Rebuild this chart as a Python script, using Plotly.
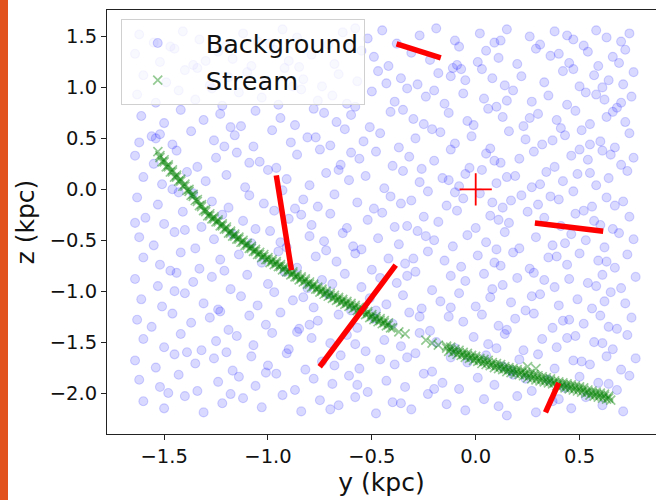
import plotly.graph_objects as go

# ---------------------------------------------------------------------------
# Field (background) stars, y and z positions in kpc, listed band by band in z
# ---------------------------------------------------------------------------
bg_y = [
    -1.62, -1.55, -1.41, -1.33, -1.20, -1.12, -1.05, -0.93, -0.86, -0.71, -0.64, -0.52, -0.45, -0.38, -0.27, -0.19, -0.10, -0.08, 0.02, 0.09, 0.15, 0.26, 0.31, 0.38, 0.47, 0.52, 0.58, 0.63, 0.70, 0.74, -1.47, -0.99, -0.58, 0.12, 0.44,
    -1.64, -1.52, -1.45, -1.36, -1.24, -1.17, -1.08, -0.97, -0.90, -0.79, -0.68, -0.61, -0.49, -0.42, -0.31, -0.22, -0.11, -0.09, -0.07, 0.05, 0.11, 0.20, 0.29, 0.36, 0.45, 0.54, 0.59, 0.66, 0.72, -1.30, -0.85, -0.55, 0.01, 0.40, 0.69,
    -1.60, -1.49, -1.40, -1.28, -1.19, -1.10, -1.01, -0.92, -0.83, -0.74, -0.66, -0.57, -0.47, -0.36, -0.28, -0.18, -0.05, 0.03, 0.14, 0.22, 0.33, 0.42, 0.50, 0.57, 0.64, 0.71, 0.76, -1.34, -0.88, -0.43, -0.12, 0.08, 0.47, 0.61,
    -1.63, -1.54, -1.43, -1.35, -1.22, -1.14, -1.03, -0.95, -0.84, -0.76, -0.69, -0.58, -0.50, -0.39, -0.33, -0.24, -0.15, -0.06, 0.04, 0.10, 0.18, 0.27, 0.35, 0.44, 0.53, 0.62, 0.68, 0.75, -1.27, -0.62, -0.20, 0.15, 0.58, 0.70,
    -1.61, -1.50, -1.42, -1.31, -1.23, -1.13, -1.06, -0.94, -0.87, -0.78, -0.67, -0.60, -0.51, -0.41, -0.30, -0.25, -0.13, -0.04, 0.06, 0.13, 0.23, 0.30, 0.39, 0.48, 0.55, 0.63, 0.72, -1.18, -0.73, -0.35, -0.01, 0.26, 0.66, 0.41,
    -1.56, -1.54, -1.52, -1.46, -1.37, -1.26, -1.16, -1.07, -0.98, -0.89, -0.81, -0.70, -0.63, -0.54, -0.46, -0.37, -0.29, -0.17, -0.10, -0.02, 0.07, 0.16, 0.24, 0.32, 0.43, 0.51, 0.60, 0.67, 0.74, -1.62, -1.21, -0.77, -0.21, 0.37, 0.55,
    -1.64, -1.55, -1.44, -1.34, -1.25, -1.15, -1.04, -0.96, -0.86, -0.75, -0.65, -0.56, -0.48, -0.40, -0.32, -0.20, -0.12, -0.03, 0.05, 0.12, 0.21, 0.28, 0.38, 0.46, 0.54, 0.61, 0.70, 0.76, -1.09, -0.60, -0.26, 0.09, 0.50, 0.65,
    -1.60, -1.51, -1.39, -1.30, -1.20, -1.11, -1.00, -0.91, -0.80, -0.72, -0.61, -0.53, -0.44, -0.35, -0.27, -0.16, -0.08, -0.05, 0.03, 0.10, 0.19, 0.27, 0.34, 0.42, 0.49, 0.58, 0.64, 0.73, -1.46, -0.66, -0.13, 0.15, 0.31, 0.55,
    -1.63, -1.53, -1.43, -1.27, -1.19, -1.09, -1.02, -0.93, -0.83, -0.76, -0.68, -0.57, -0.49, -0.41, -0.31, -0.23, -0.14, -0.06, 0.02, 0.08, 0.13, 0.22, 0.30, 0.40, 0.47, 0.56, 0.63, 0.71, -1.36, -0.87, -0.36, -0.10, 0.17, 0.36, 0.67,
    -1.59, -1.50, -1.41, -1.32, -1.22, -1.12, -1.06, -0.97, -0.90, -0.79, -0.70, -0.62, -0.52, -0.45, -0.33, -0.25, -0.18, -0.09, 0.00, 0.07, 0.16, 0.25, 0.33, 0.41, 0.48, 0.57, 0.66, 0.74, -1.64, -0.84, -0.39, 0.11, 0.52, 0.60,
    -1.62, -1.55, -1.45, -1.35, -1.26, -1.17, -1.08, -0.99, -0.91, -0.80, -0.73, -0.64, -0.55, -0.47, -0.37, -0.28, -0.20, -0.11, -0.04, 0.05, 0.14, 0.21, 0.29, 0.37, 0.46, 0.53, 0.62, 0.69, 0.76, -1.40, -0.94, -0.59, -0.24, 0.10, 0.43,
    -1.60, -1.52, -1.42, -1.33, -1.23, -1.14, -1.03, -0.95, -0.86, -0.77, -0.67, -0.58, -0.50, -0.42, -0.34, -0.23, -0.15, -0.07, 0.01, 0.09, 0.18, 0.26, 0.35, 0.44, 0.50, 0.59, 0.67, 0.73, -1.47, -0.72, -0.30, 0.12, 0.39, 0.63,
    -1.64, -1.53, -1.44, -1.36, -1.27, -1.18, -1.10, -1.00, -0.92, -0.81, -0.74, -0.63, -0.55, -0.46, -0.38, -0.29, -0.21, -0.12, -0.05, 0.04, 0.13, 0.20, 0.28, 0.38, 0.45, 0.54, 0.61, 0.70, 0.77, -1.21, -0.69, -0.33, 0.08, 0.33, 0.58,
    -1.61, -1.51, -1.40, -1.31, -1.24, -1.13, -1.05, -0.97, -0.88, -0.78, -0.71, -0.60, -0.51, -0.43, -0.35, -0.26, -0.17, -0.08, 0.00, 0.07, 0.17, 0.24, 0.31, 0.40, 0.49, 0.56, 0.65, 0.72, -1.45, -0.83, -0.48, -0.12, 0.27, 0.62,
    -1.63, -1.56, -1.46, -1.37, -1.28, -1.19, -1.09, -1.01, -0.94, -0.85, -0.76, -0.66, -0.57, -0.49, -0.40, -0.32, -0.22, -0.13, -0.06, 0.03, 0.11, 0.19, 0.28, 0.37, 0.45, 0.52, 0.60, 0.68, 0.75, -1.23, -0.80, -0.27, 0.15, 0.42, 0.64,
    -1.60, -1.50, -1.42, -1.32, -1.25, -1.15, -1.07, -0.98, -0.90, -0.79, -0.70, -0.62, -0.53, -0.44, -0.36, -0.27, -0.19, -0.10, -0.01, 0.06, 0.14, 0.23, 0.32, 0.39, 0.48, 0.57, 0.66, 0.73, -1.39, -0.86, -0.58, 0.10, 0.44, 0.61,
    -1.64, -1.54, -1.45, -1.35, -1.26, -1.17, -1.08, -1.00, -0.91, -0.82, -0.74, -0.65, -0.56, -0.46, -0.39, -0.29, -0.21, -0.12, -0.04, 0.05, 0.13, 0.21, 0.30, 0.38, 0.47, 0.55, 0.63, 0.70, 0.77, -1.20, -0.68, -0.33, 0.17, 0.51,
    -1.62, -1.52, -1.43, -1.34, -1.24, -1.14, -1.06, -0.96, -0.87, -0.78, -0.69, -0.61, -0.52, -0.43, -0.34, -0.25, -0.16, -0.08, 0.01, 0.09, 0.18, 0.27, 0.35, 0.43, 0.50, 0.59, 0.68, 0.74, -1.48, -1.01, -0.57, -0.20, 0.24, 0.64,
    -1.60, -1.50, -1.40, -1.31, -1.22, -1.12, -1.03, -0.93, -0.84, -0.75, -0.66, -0.58, -0.48, -0.40, -0.31, -0.23, -0.14, -0.05, 0.04, 0.11, 0.20, 0.29, 0.37, 0.46, 0.53, 0.61, 0.71, -1.18, -0.70, -0.36, 0.15, 0.40,
]
bg_z = [
    1.52, 1.44, 1.55, 1.47, 1.41, 1.53, 1.45, 1.57, 1.49, 1.42, 1.54, 1.48, 1.56, 1.43, 1.51, 1.58, 1.46, 1.40, 1.53, 1.44, 1.57, 1.50, 1.42, 1.55, 1.47, 1.41, 1.56, 1.49, 1.45, 1.53, 1.40, 1.43, 1.58, 1.46, 1.51,
    1.33, 1.25, 1.38, 1.22, 1.35, 1.28, 1.21, 1.37, 1.26, 1.32, 1.23, 1.39, 1.30, 1.21, 1.34, 1.27, 1.19, 1.22, 1.18, 1.36, 1.29, 1.23, 1.38, 1.31, 1.24, 1.35, 1.21, 1.30, 1.37, 1.26, 1.20, 1.36, 1.25, 1.33, 1.24,
    1.12, 1.05, 1.17, 1.02, 1.10, 1.15, 1.04, 1.19, 1.08, 1.01, 1.13, 1.06, 1.16, 1.09, 1.03, 1.14, 1.07, 1.18, 1.02, 1.11, 1.05, 1.16, 1.01, 1.12, 1.07, 1.03, 1.15, 1.19, 1.01, 1.04, 1.11, 1.09, 1.18, 1.00,
    0.93, 0.85, 0.97, 0.88, 0.82, 0.95, 0.90, 0.83, 0.98, 0.87, 0.92, 0.81, 0.96, 0.86, 0.99, 0.91, 0.84, 0.94, 0.89, 0.81, 0.97, 0.86, 0.92, 0.83, 0.95, 0.88, 0.80, 0.91, 0.99, 0.84, 0.97, 0.87, 0.93, 0.85,
    0.72, 0.65, 0.78, 0.68, 0.74, 0.62, 0.77, 0.70, 0.63, 0.79, 0.66, 0.73, 0.61, 0.76, 0.69, 0.64, 0.75, 0.67, 0.79, 0.71, 0.62, 0.74, 0.68, 0.77, 0.64, 0.71, 0.66, 0.61, 0.75, 0.78, 0.63, 0.70, 0.76, 0.60,
    0.52, 0.50, 0.54, 0.44, 0.57, 0.48, 0.53, 0.42, 0.58, 0.46, 0.51, 0.43, 0.59, 0.47, 0.55, 0.41, 0.50, 0.56, 0.45, 0.52, 0.40, 0.57, 0.49, 0.44, 0.53, 0.58, 0.47, 0.41, 0.55, 0.46, 0.42, 0.51, 0.59, 0.48, 0.44,
    0.33, 0.25, 0.38, 0.22, 0.31, 0.36, 0.27, 0.21, 0.34, 0.39, 0.24, 0.30, 0.37, 0.23, 0.32, 0.28, 0.39, 0.21, 0.35, 0.26, 0.30, 0.37, 0.22, 0.33, 0.29, 0.38, 0.24, 0.31, 0.26, 0.36, 0.20, 0.28, 0.39, 0.34,
    0.12, 0.05, 0.17, 0.08, 0.14, 0.02, 0.19, 0.10, 0.04, 0.16, 0.09, 0.13, 0.01, 0.18, 0.07, 0.11, 0.03, 0.15, 0.19, 0.06, 0.13, 0.02, 0.17, 0.08, 0.15, 0.04, 0.11, 0.18, 0.00, 0.19, 0.09, 0.12, 0.05, 0.16,
    -0.08, -0.15, -0.03, -0.12, -0.18, -0.06, -0.14, -0.01, -0.10, -0.17, -0.05, -0.13, -0.19, -0.07, -0.11, -0.02, -0.16, -0.09, -0.04, -0.13, -0.18, -0.06, -0.15, -0.10, -0.02, -0.17, -0.08, -0.12, -0.04, -0.19, -0.14, -0.03, -0.11, -0.07, -0.16,
    -0.28, -0.34, -0.22, -0.37, -0.25, -0.31, -0.39, -0.21, -0.29, -0.35, -0.24, -0.38, -0.30, -0.23, -0.36, -0.27, -0.32, -0.21, -0.38, -0.26, -0.33, -0.22, -0.28, -0.36, -0.24, -0.31, -0.39, -0.27, -0.33, -0.25, -0.37, -0.30, -0.21, -0.35,
    -0.47, -0.55, -0.42, -0.58, -0.49, -0.44, -0.53, -0.41, -0.57, -0.46, -0.51, -0.43, -0.59, -0.48, -0.54, -0.41, -0.50, -0.56, -0.45, -0.52, -0.42, -0.58, -0.47, -0.55, -0.44, -0.50, -0.57, -0.43, -0.49, -0.40, -0.52, -0.56, -0.46, -0.59, -0.53,
    -0.67, -0.74, -0.62, -0.78, -0.69, -0.64, -0.72, -0.61, -0.77, -0.66, -0.71, -0.63, -0.79, -0.68, -0.73, -0.61, -0.70, -0.76, -0.65, -0.72, -0.62, -0.78, -0.67, -0.74, -0.63, -0.70, -0.77, -0.64, -0.80, -0.60, -0.68, -0.75, -0.66, -0.71,
    -0.88, -0.95, -0.82, -0.91, -0.86, -0.98, -0.84, -0.93, -0.81, -0.97, -0.89, -0.83, -0.96, -0.87, -0.92, -0.81, -0.99, -0.85, -0.90, -0.83, -0.94, -0.87, -0.82, -0.96, -0.88, -0.92, -0.84, -0.97, -0.86, -0.80, -0.93, -0.85, -0.98, -0.89, -0.95,
    -1.08, -1.15, -1.02, -1.12, -1.18, -1.05, -1.14, -1.01, -1.09, -1.16, -1.03, -1.19, -1.07, -1.13, -1.04, -1.17, -1.10, -1.02, -1.15, -1.06, -1.11, -1.19, -1.03, -1.14, -1.08, -1.17, -1.01, -1.12, -1.00, -1.06, -1.19, -1.16, -1.05, -1.10,
    -1.28, -1.35, -1.22, -1.31, -1.26, -1.38, -1.24, -1.33, -1.21, -1.37, -1.29, -1.23, -1.36, -1.27, -1.32, -1.21, -1.39, -1.25, -1.30, -1.23, -1.34, -1.27, -1.22, -1.36, -1.28, -1.32, -1.24, -1.37, -1.26, -1.20, -1.33, -1.25, -1.38, -1.29, -1.35,
    -1.47, -1.55, -1.42, -1.58, -1.49, -1.44, -1.53, -1.41, -1.57, -1.46, -1.51, -1.43, -1.59, -1.48, -1.54, -1.41, -1.50, -1.56, -1.45, -1.52, -1.42, -1.58, -1.47, -1.55, -1.44, -1.50, -1.57, -1.43, -1.60, -1.40, -1.52, -1.56, -1.46, -1.51,
    -1.68, -1.75, -1.62, -1.71, -1.66, -1.78, -1.64, -1.73, -1.61, -1.77, -1.69, -1.63, -1.76, -1.67, -1.72, -1.61, -1.79, -1.65, -1.70, -1.63, -1.74, -1.67, -1.62, -1.76, -1.68, -1.72, -1.64, -1.77, -1.66, -1.60, -1.73, -1.65, -1.78, -1.69,
    -1.87, -1.94, -1.82, -1.98, -1.89, -1.84, -1.93, -1.81, -1.97, -1.86, -1.91, -1.83, -1.99, -1.88, -1.94, -1.81, -1.90, -1.96, -1.85, -1.92, -1.82, -1.98, -1.87, -1.95, -1.84, -1.90, -1.97, -1.83, -2.00, -1.80, -1.92, -1.96, -1.86, -1.91,
    -2.08, -2.15, -2.03, -2.19, -2.10, -2.05, -2.14, -2.02, -2.18, -2.07, -2.12, -2.04, -2.20, -2.09, -2.16, -2.01, -2.11, -2.17, -2.06, -2.13, -2.03, -2.19, -2.08, -2.15, -2.04, -2.12, -2.18, -2.01, -2.16, -2.10, -2.22, -2.06,
]

# ---------------------------------------------------------------------------
# Stream members (kpc): three rows along the leading arc, three along the
# trailing arc, plus a few stragglers in the gap
# ---------------------------------------------------------------------------
stream_y = [
    -1.52, -1.50, -1.48, -1.46, -1.44, -1.42, -1.40, -1.38, -1.36, -1.34, -1.32, -1.30, -1.28, -1.26, -1.24, -1.22, -1.20, -1.18, -1.16, -1.14, -1.12, -1.10, -1.08, -1.06, -1.04, -1.02, -1.00, -0.98, -0.96, -0.94, -0.92, -0.90, -0.88, -0.86, -0.84, -0.82, -0.80, -0.78, -0.76, -0.74, -0.72, -0.70, -0.68, -0.66, -0.64, -0.62, -0.60, -0.58, -0.56, -0.54, -0.52, -0.50, -0.48, -0.46, -0.44, -0.42,
    -1.51, -1.49, -1.47, -1.45, -1.43, -1.41, -1.39, -1.37, -1.35, -1.33, -1.31, -1.29, -1.27, -1.25, -1.23, -1.21, -1.19, -1.17, -1.15, -1.13, -1.11, -1.09, -1.07, -1.05, -1.03, -1.01, -0.99, -0.97, -0.95, -0.93, -0.91, -0.89, -0.87, -0.85, -0.83, -0.81, -0.79, -0.77, -0.75, -0.73, -0.71, -0.69, -0.67, -0.65, -0.63, -0.61, -0.59, -0.57, -0.55, -0.53, -0.51, -0.49, -0.47, -0.45, -0.43, -0.41,
    -1.52, -1.50, -1.48, -1.46, -1.44, -1.42, -1.40, -1.38, -1.36, -1.34, -1.32, -1.30, -1.28, -1.26, -1.24, -1.22, -1.20, -1.18, -1.16, -1.14, -1.12, -1.10, -1.08, -1.06, -1.04, -1.02, -1.00, -0.98, -0.96, -0.94, -0.92, -0.90, -0.88, -0.86, -0.84, -0.82, -0.80, -0.78, -0.76, -0.74, -0.72, -0.70, -0.68, -0.66, -0.64, -0.62, -0.60, -0.58, -0.56, -0.54, -0.52, -0.50, -0.48, -0.46, -0.44, -0.42,
    -0.14, -0.12, -0.10, -0.08, -0.06, -0.04, -0.02, 0.00, 0.02, 0.04, 0.06, 0.08, 0.10, 0.12, 0.14, 0.16, 0.18, 0.20, 0.22, 0.24, 0.26, 0.28, 0.30, 0.32, 0.34, 0.36, 0.38, 0.40, 0.42, 0.44, 0.46, 0.48, 0.50, 0.52, 0.54, 0.56, 0.58, 0.60, 0.62, 0.64,
    -0.13, -0.11, -0.09, -0.07, -0.05, -0.03, -0.01, 0.01, 0.03, 0.05, 0.07, 0.09, 0.11, 0.13, 0.15, 0.17, 0.19, 0.21, 0.23, 0.25, 0.27, 0.29, 0.31, 0.33, 0.35, 0.37, 0.39, 0.41, 0.43, 0.45, 0.47, 0.49, 0.51, 0.53, 0.55, 0.57, 0.59, 0.61, 0.63, 0.65,
    -0.14, -0.12, -0.10, -0.08, -0.06, -0.04, -0.02, 0.00, 0.02, 0.04, 0.06, 0.08, 0.10, 0.12, 0.14, 0.16, 0.18, 0.20, 0.22, 0.24, 0.26, 0.28, 0.30, 0.32, 0.34, 0.36, 0.38, 0.40, 0.42, 0.44, 0.46, 0.48, 0.50, 0.52, 0.54, 0.56, 0.58, 0.60, 0.62, 0.64,
    -1.53, -0.40, -0.37, -0.34, -0.24, -0.21, -0.18, 0.25, 0.29,
]
stream_z = [
    0.33, 0.29, 0.24, 0.19, 0.14, 0.10, 0.05, 0.00, -0.05, -0.10, -0.15, -0.20, -0.24, -0.27, -0.30, -0.34, -0.37, -0.41, -0.44, -0.47, -0.50, -0.53, -0.56, -0.59, -0.62, -0.64, -0.67, -0.69, -0.71, -0.74, -0.76, -0.79, -0.81, -0.84, -0.86, -0.88, -0.91, -0.93, -0.96, -0.98, -1.00, -1.02, -1.04, -1.06, -1.08, -1.10, -1.12, -1.14, -1.16, -1.18, -1.20, -1.23, -1.25, -1.27, -1.29, -1.31,
    0.27, 0.22, 0.17, 0.12, 0.08, 0.03, -0.01, -0.06, -0.11, -0.16, -0.21, -0.26, -0.29, -0.32, -0.36, -0.39, -0.43, -0.46, -0.49, -0.52, -0.55, -0.58, -0.61, -0.64, -0.67, -0.69, -0.72, -0.74, -0.76, -0.79, -0.81, -0.84, -0.86, -0.89, -0.91, -0.93, -0.96, -0.98, -1.01, -1.03, -1.05, -1.07, -1.09, -1.11, -1.13, -1.15, -1.17, -1.19, -1.21, -1.23, -1.26, -1.28, -1.30, -1.32, -1.34, -1.36,
    0.31, 0.27, 0.22, 0.17, 0.12, 0.08, 0.03, -0.02, -0.07, -0.12, -0.17, -0.22, -0.26, -0.29, -0.32, -0.36, -0.39, -0.43, -0.46, -0.49, -0.52, -0.55, -0.58, -0.61, -0.64, -0.66, -0.69, -0.71, -0.73, -0.76, -0.78, -0.81, -0.83, -0.86, -0.88, -0.90, -0.93, -0.95, -0.98, -1.00, -1.02, -1.04, -1.06, -1.08, -1.10, -1.12, -1.14, -1.16, -1.18, -1.20, -1.22, -1.25, -1.27, -1.29, -1.31, -1.33,
    -1.54, -1.55, -1.57, -1.58, -1.60, -1.61, -1.63, -1.64, -1.66, -1.67, -1.68, -1.70, -1.71, -1.72, -1.74, -1.75, -1.76, -1.77, -1.78, -1.80, -1.81, -1.82, -1.83, -1.84, -1.85, -1.86, -1.88, -1.89, -1.90, -1.91, -1.92, -1.93, -1.94, -1.95, -1.97, -1.98, -1.99, -2.00, -2.01, -2.03,
    -1.59, -1.60, -1.62, -1.63, -1.65, -1.66, -1.68, -1.69, -1.71, -1.72, -1.73, -1.75, -1.76, -1.77, -1.79, -1.80, -1.81, -1.82, -1.83, -1.85, -1.86, -1.87, -1.88, -1.89, -1.90, -1.91, -1.93, -1.94, -1.95, -1.96, -1.97, -1.98, -1.99, -2.00, -2.02, -2.03, -2.04, -2.05, -2.06, -2.07,
    -1.56, -1.57, -1.59, -1.60, -1.62, -1.63, -1.65, -1.66, -1.68, -1.69, -1.70, -1.72, -1.73, -1.74, -1.76, -1.77, -1.78, -1.79, -1.80, -1.82, -1.83, -1.84, -1.85, -1.86, -1.87, -1.88, -1.90, -1.91, -1.92, -1.93, -1.94, -1.95, -1.96, -1.97, -1.99, -2.00, -2.01, -2.02, -2.03, -2.05,
    0.37, -1.36, -1.40, -1.42, -1.48, -1.51, -1.53, -1.74, -1.76,
]

# Direction segments (kpc): start and end points
seg_y0 = [-0.381, 0.285, -0.960, -0.385, 0.400]
seg_z0 = [1.428, -0.330, 0.137, -0.745, -1.899]
seg_y1 = [-0.168, 0.614, -0.887, -0.751, 0.336]
seg_z1 = [1.291, -0.412, -0.794, -1.742, -2.189]

# Reference position
center_y = [0.0]
center_z = [0.0]

# Axis ticks
x_tick_vals = [-1.5, -1.0, -0.5, 0.0, 0.5]
x_tick_text = ["\u22121.5", "\u22121.0", "\u22120.5", "0.0", "0.5"]
y_tick_vals = [-2.0, -1.5, -1.0, -0.5, 0.0, 0.5, 1.0, 1.5]
y_tick_text = ["\u22122.0", "\u22121.5", "\u22121.0", "\u22120.5", "0.0", "0.5", "1.0", "1.5"]

fig = go.Figure()

fig.add_trace(go.Scatter(
    x=bg_y, y=bg_z, mode="markers", name="Background", legendgroup="bg",
    marker=dict(symbol="circle", size=9, color="rgba(0,0,255,0.15)",
                line=dict(color="rgba(0,0,255,0.16)", width=1.1)),
    hoverinfo="skip",
))

fig.add_trace(go.Scatter(
    x=stream_y, y=stream_z, mode="markers", name="Stream", legendgroup="st",
    marker=dict(symbol="x-thin", size=9, color="rgba(0,128,0,0.42)",
                line=dict(color="rgba(0,128,0,0.42)", width=1.7)),
    hoverinfo="skip",
))

# Red segments joined in one trace with gaps between them
seg_x, seg_z = [], []
for a, b, c, d in zip(seg_y0, seg_z0, seg_y1, seg_z1):
    seg_x += [a, c, None]
    seg_z += [b, d, None]
fig.add_trace(go.Scatter(
    x=seg_x, y=seg_z, mode="lines", showlegend=False, hoverinfo="skip",
    line=dict(color="#ff0000", width=5.5),
))

fig.add_trace(go.Scatter(
    x=center_y, y=center_z, mode="markers", showlegend=False, hoverinfo="skip",
    marker=dict(symbol="cross-thin", size=23, color="#ff0000",
                line=dict(color="#ff0000", width=1.8)),
))

axis_common = dict(
    showline=True, linecolor="#222222", linewidth=1.1,
    ticks="outside", ticklen=5, tickwidth=1.1, tickcolor="#222222",
    showgrid=False, zeroline=False,
    tickfont=dict(size=19.5, color="#111111"),
)

fig.update_layout(
    width=656, height=500,
    margin=dict(l=107, r=0, t=10, b=66),
    paper_bgcolor="white", plot_bgcolor="white",
    font=dict(family="DejaVu Sans", color="#111111"),
    xaxis=dict(
        range=[-1.775, 0.868], tickvals=x_tick_vals, ticktext=x_tick_text,
        mirror=True,
        title=dict(text="y (kpc)", font=dict(size=25), standoff=6),
        **axis_common,
    ),
    yaxis=dict(
        range=[-2.402, 1.76], tickvals=y_tick_vals, ticktext=y_tick_text,
        title=dict(text="z (kpc)", font=dict(size=25), standoff=7),
        **axis_common,
    ),
    legend=dict(
        x=0.025, y=0.979, xanchor="left", yanchor="top",
        bgcolor="rgba(255,255,255,0.8)", bordercolor="#d0d0d0", borderwidth=1,
        font=dict(size=25.5, color="#111111"), tracegroupgap=1,
        itemwidth=86, indentation=-12,
    ),
    shapes=[dict(
        type="rect", xref="paper", yref="paper",
        x0=-107 / 549, x1=-99 / 549, y0=-66 / 424, y1=1 + 10 / 424,
        fillcolor="#e2521d", line=dict(width=0), layer="above",
    )],
)

fig.write_html("out.html", config={"displayModeBar": False})
